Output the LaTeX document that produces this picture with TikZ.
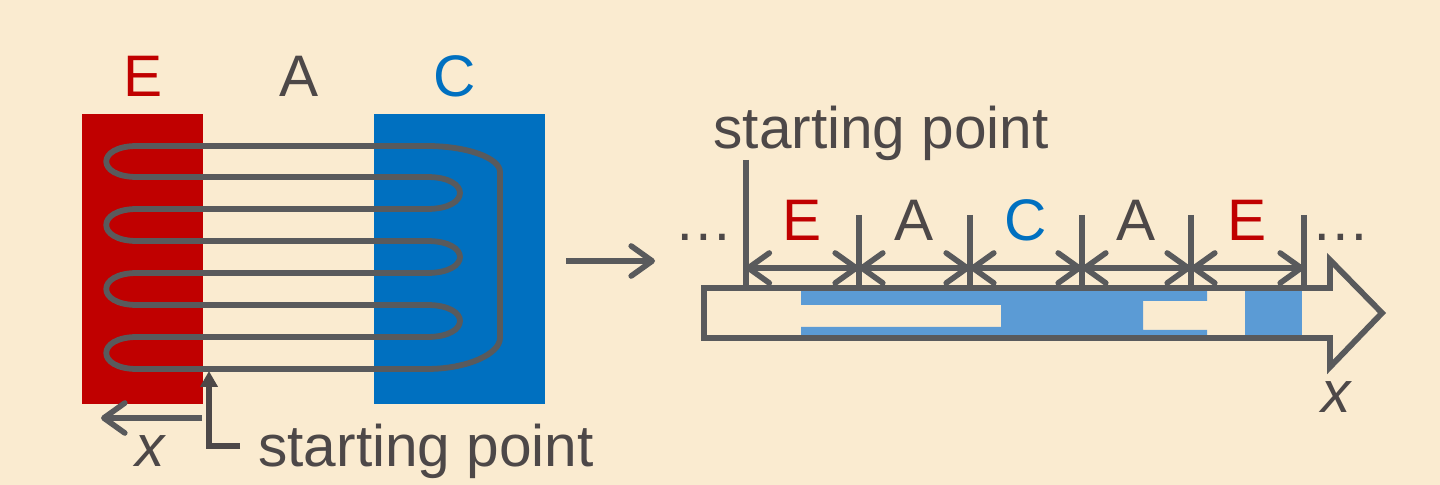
\documentclass[tikz,border=0pt]{standalone}
\usepackage{fontspec}
\setmainfont{Liberation Sans}
\usetikzlibrary{arrows.meta}
\definecolor{bg}{HTML}{FAEBD0}
\definecolor{ered}{HTML}{C00000}
\definecolor{cblue}{HTML}{0070C0}
\definecolor{lblue}{HTML}{5B9BD5}
\definecolor{lgray}{HTML}{595A5C}
\definecolor{tgray}{HTML}{4D4848}
\tikzset{
  lbl/.style={anchor=base, inner sep=0pt, font=\fontsize{29.3}{35}\selectfont, text=tgray},
  wire/.style={draw=lgray, line width=2.9pt, line join=round},
  barbtip/.tip={Straight Barb[length=10.5pt,width=15pt,round]},
  onearrow/.style={-barbtip, draw=lgray, line width=2.8pt},
  dimarrow/.style={barbtip-barbtip, draw=lgray, line width=2.8pt},
  tick/.style={draw=lgray, line width=3pt},
}
\begin{document}
\begin{tikzpicture}[x=0.5pt,y=-0.5pt]
\useasboundingbox (0,0) rectangle (1440,485);
\fill[bg] (0,0) rectangle (1440,485);

% ---------- left figure ----------
\fill[ered] (82,114) rectangle (203,404);
\fill[cblue] (374,114) rectangle (545,404);

\node[lbl, text=ered] (lE) at (143,97) {E};
\node[lbl] (lA) at (299,97) {A};
\node[lbl, text=cblue] (lC) at (455,97) {C};

\draw[wire] (137,146) -- (427,146)
  .. controls (467,146) and (500,158) .. (500,172) -- (500,338)
  .. controls (500,354) and (467,369) .. (427,369)
  -- (137,369) .. controls (96,369) and (96,337) .. (137,337)
  -- (427,337) .. controls (471,337) and (471,305) .. (427,305)
  -- (137,305) .. controls (96,305) and (96,273) .. (137,273)
  -- (427,273) .. controls (471,273) and (471,241) .. (427,241)
  -- (137,241) .. controls (96,241) and (96,209) .. (137,209)
  -- (427,209) .. controls (471,209) and (471,177) .. (427,177)
  -- (137,177) .. controls (96,177) and (96,146) .. (137,146) -- cycle;

% x axis (left)
\coordinate (lxs) at (202,418);
\coordinate (lxe) at (101,418);
\draw[onearrow] (lxs) -- (lxe);
\node[lbl] (lx) at (151,467) {\textit{x}};

% starting point (left)
\coordinate (spa) at (240,446);
\coordinate (spc) at (209,446);
\coordinate (spt) at (209,371);
\draw[draw=tgray, line width=3pt, -{Triangle[length=8pt,width=8.5pt]}] (spa) -- (spc) -- (spt);
\node[lbl, anchor=base west] (sp1) at (258,467) {starting point};

% middle arrow
\coordinate (ma) at (566,261);
\coordinate (mb) at (655,261);
\draw[onearrow] (ma) -- (mb);

% ---------- right figure ----------
\fill[lblue] (801,289) -| (1207,301) -| (1143,330) -| (1207,338) -| (801,327) -| (1001,305) -| (801,289) -- cycle;
\fill[lblue] (1245,289) rectangle (1302,338);

\draw[draw=lgray, line width=2.9pt, line join=miter]
  (704,288) -- (1330,288) -- (1330,260) -- (1382,313) -- (1330,367) -- (1330,338) -- (704,338) -- cycle;

\node[lbl, anchor=base west] (sp2) at (713,149) {starting point};

\coordinate (t0a) at (745.5,160);  \coordinate (t0b) at (745.5,288);
\coordinate (t1a) at (859,215);    \coordinate (t1b) at (859,288);
\coordinate (t2a) at (970,215);    \coordinate (t2b) at (970,288);
\coordinate (t3a) at (1082,215);   \coordinate (t3b) at (1082,288);
\coordinate (t4a) at (1191,215);   \coordinate (t4b) at (1191,288);
\coordinate (t5a) at (1304,215);   \coordinate (t5b) at (1304,288);
\foreach \i in {0,...,5} { \draw[tick] (t\i a) -- (t\i b); }

\coordinate (d0) at (745.5,268);
\coordinate (d1) at (859,268);
\coordinate (d2) at (970,268);
\coordinate (d3) at (1082,268);
\coordinate (d4) at (1191,268);
\coordinate (d5) at (1304,268);
\draw[dimarrow] (d0) -- (d1);
\draw[dimarrow] (d1) -- (d2);
\draw[dimarrow] (d2) -- (d3);
\draw[dimarrow] (d3) -- (d4);
\draw[dimarrow] (d4) -- (d5);

\node[lbl, text=ered] (rE1) at (802,241) {E};
\node[lbl] (rA1) at (914.5,241) {A};
\node[lbl, text=cblue] (rC) at (1026,241) {C};
\node[lbl] (rA2) at (1136.5,241) {A};
\node[lbl, text=ered] (rE2) at (1247.5,241) {E};
\node[lbl] (dotsL) at (704,241) {…};
\node[lbl] (dotsR) at (1341,241) {…};
\node[lbl] (rx) at (1337,413) {\textit{x}};
\end{tikzpicture}
\end{document}
